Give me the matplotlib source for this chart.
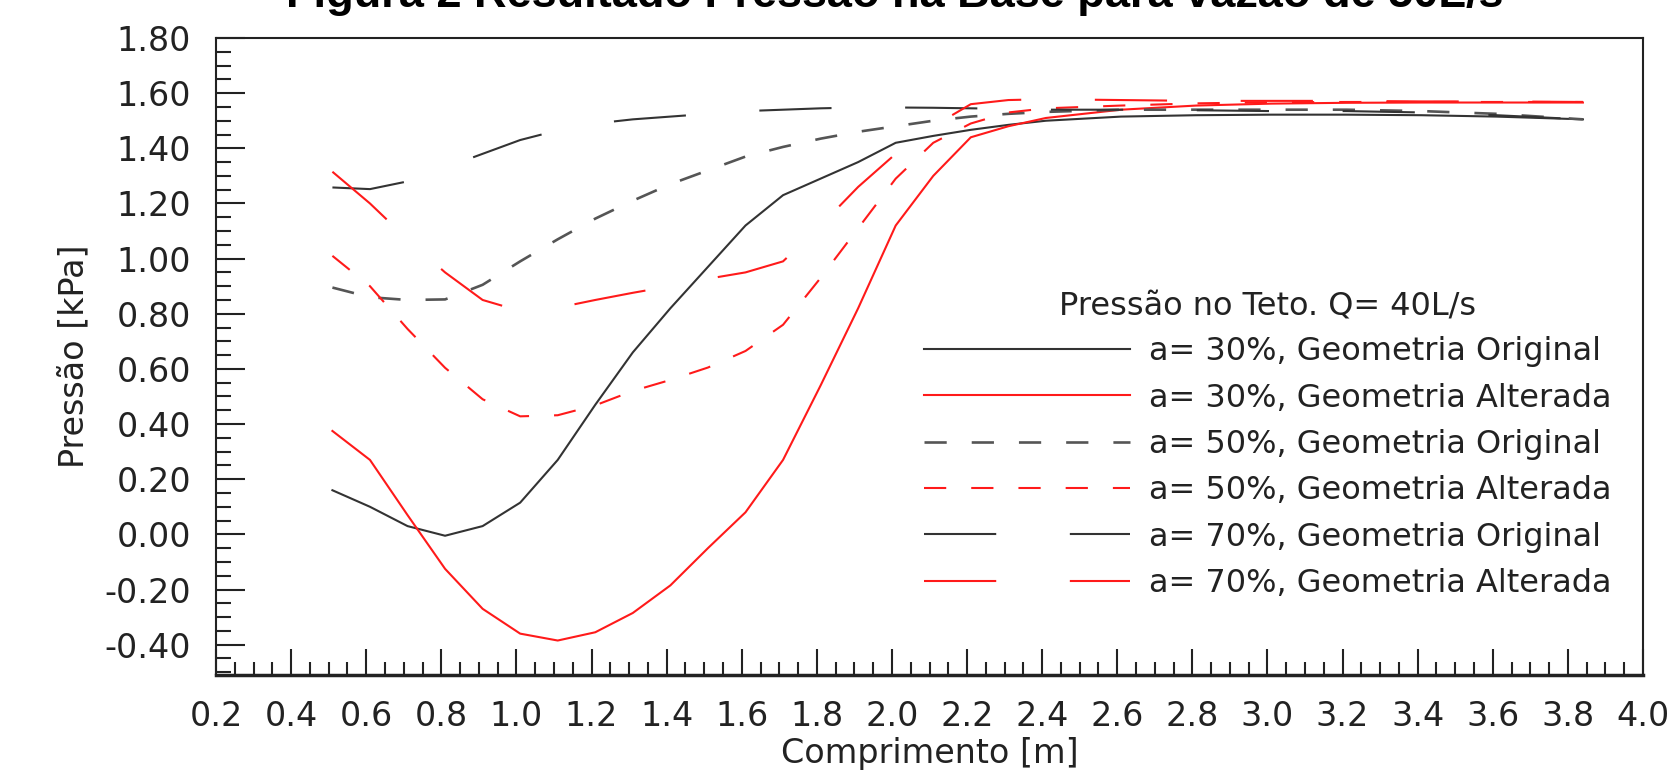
import numpy as np
import matplotlib
matplotlib.use("Agg")
from matplotlib import pyplot as plt
from matplotlib.ticker import MultipleLocator, FormatStrFormatter

plt.rcParams['font.family'] = ['DejaVu Sans']
plt.rcParams['lines.scale_dashes'] = False

# comprimento [m]
x = [0.51, 0.61, 0.71, 0.81, 0.91, 1.01, 1.11, 1.21, 1.31, 1.41, 1.51, 1.61,
     1.71, 1.81, 1.91, 2.01, 2.11, 2.21, 2.31, 2.41, 2.61, 2.81, 3.01, 3.21,
     3.41, 3.61, 3.84]

# pressao [kPa]
a30_orig = [0.16, 0.10, 0.03, -0.005, 0.03, 0.115, 0.27, 0.47, 0.66, 0.82, 0.97,
            1.12, 1.23, 1.29, 1.35, 1.42, 1.445, 1.467, 1.485, 1.50, 1.515,
            1.52, 1.522, 1.522, 1.52, 1.515, 1.505]
a30_alt = [0.375, 0.27, 0.07, -0.125, -0.27, -0.36, -0.385, -0.355, -0.285,
           -0.185, -0.05, 0.08, 0.27, 0.54, 0.82, 1.12, 1.30, 1.44, 1.48, 1.51,
           1.54, 1.555, 1.562, 1.565, 1.566, 1.566, 1.566]
a50_orig = [0.895, 0.86, 0.85, 0.852, 0.905, 0.99, 1.07, 1.145, 1.21, 1.27,
            1.32, 1.37, 1.405, 1.435, 1.46, 1.48, 1.50, 1.515, 1.525, 1.532,
            1.54, 1.54, 1.54, 1.54, 1.535, 1.525, 1.505]
a50_alt = [1.01, 0.90, 0.745, 0.604, 0.49, 0.428, 0.432, 0.468, 0.52, 0.56,
           0.605, 0.665, 0.76, 0.93, 1.11, 1.29, 1.42, 1.49, 1.53, 1.545, 1.555,
           1.563, 1.567, 1.568, 1.568, 1.568, 1.568]
a70_orig = [1.258, 1.252, 1.28, 1.33, 1.38, 1.43, 1.465, 1.49, 1.505, 1.515,
            1.525, 1.535, 1.54, 1.545, 1.548, 1.548, 1.547, 1.545, 1.543, 1.54,
            1.54, 1.538, 1.535, 1.535, 1.53, 1.52, 1.505]
a70_alt = [1.315, 1.20, 1.07, 0.95, 0.85, 0.81, 0.822, 0.85, 0.876, 0.90, 0.927,
           0.95, 0.99, 1.12, 1.26, 1.38, 1.48, 1.56, 1.575, 1.578, 1.575, 1.572,
           1.572, 1.572, 1.57, 1.57, 1.568]

labels = ['a= 30%, Geometria Original', 'a= 30%, Geometria Alterada',
          'a= 50%, Geometria Original', 'a= 50%, Geometria Alterada',
          'a= 70%, Geometria Original', 'a= 70%, Geometria Alterada']

fig = plt.figure(figsize=(16.75, 7.7), dpi=100)
ax = fig.add_axes([216/1675, 1-675/770, (1643-216)/1675, (675-38)/770])

preto = '#333333'
cinza = '#555555'
verm = '#ff1a1a'
tr = '-'
da = (0, (16, 18))
ld = (0, (52, 53))
lw = 1.5

ax.plot(x, a30_orig, color=preto, ls=tr, lw=lw, label=labels[0])
ax.plot(x, a30_alt, color=verm, ls=tr, lw=lw, label=labels[1])
ax.plot(x, a50_orig, color=cinza, ls=da, lw=lw+0.4, label=labels[2])
ax.plot(x, a50_alt, color=verm, ls=da, lw=lw, label=labels[3])
ax.plot(x, a70_orig, color=preto, ls=ld, lw=lw, label=labels[4])
ax.plot(x, a70_alt, color=verm, ls=ld, lw=lw, label=labels[5])

ax.set_xlim(0.2, 4.0)
ax.set_ylim(-0.51, 1.80)
ax.xaxis.set_major_locator(MultipleLocator(0.2))
ax.xaxis.set_minor_locator(MultipleLocator(0.05))
ax.yaxis.set_major_locator(MultipleLocator(0.2))
ax.yaxis.set_minor_locator(MultipleLocator(0.05))
ax.xaxis.set_major_formatter(FormatStrFormatter('%.1f'))
ax.yaxis.set_major_formatter(FormatStrFormatter('%.2f'))

ax.tick_params(which='both', direction='in', top=False, right=False,
               width=1.5, color='#222222', labelsize=24, labelcolor='#222222')
ax.tick_params(axis='x', which='major', length=19, pad=18)
ax.tick_params(axis='x', which='minor', length=9.5)
ax.tick_params(axis='y', which='major', length=21, pad=18)
ax.tick_params(axis='y', which='minor', length=11)
for s in ax.spines.values():
    s.set_linewidth(1.5)
    s.set_color('#222222')
ax.spines['bottom'].set_linewidth(2.5)

ax.set_xlabel('Comprimento [m]', fontsize=24, color='#222222', labelpad=3)
ax.set_ylabel('Pressão [kPa]', fontsize=24, color='#222222', labelpad=10)

leg = ax.legend(loc='upper left', bbox_to_anchor=(924/1675, 1-290/770),
                bbox_transform=fig.transFigure, frameon=False, fontsize=23,
                title='Pressão no Teto. Q= 40L/s', title_fontsize=23,
                handlelength=6.45, handletextpad=0.6, labelspacing=0.48,
                borderpad=0, borderaxespad=0)
for t in leg.get_texts():
    t.set_color('#222222')
leg.get_title().set_color('#222222')

# titulo cortado no topo da imagem
fig.text(0.534, 1-7.5/770, 'Figura 2 Resultado Pressão na Base para vazão de 50L/s',
         ha='center', va='baseline', fontsize=32.5, fontweight='bold',
         family=['Liberation Sans', 'DejaVu Sans'])

fig.savefig('out.png', dpi=100)
